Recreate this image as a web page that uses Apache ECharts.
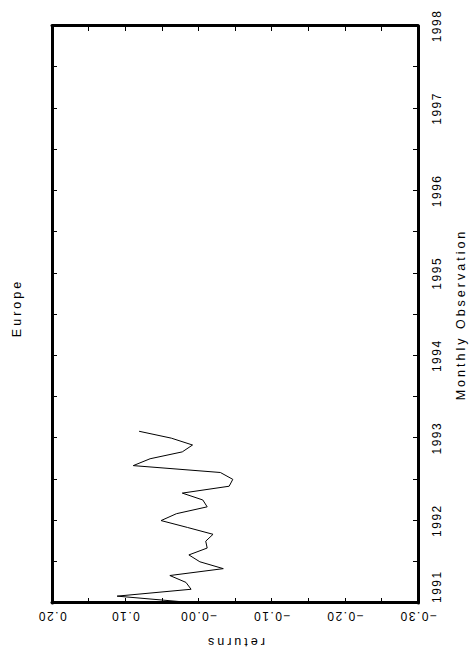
<!DOCTYPE html>
<html>
<head>
<meta charset="utf-8">
<script src="https://cdn.jsdelivr.net/npm/echarts@6/dist/echarts.min.js"></script>
<style>
    html, body { margin: 0; padding: 0; overflow: hidden; background: #fff; width: 472px; height: 656px; }
    /* chart is drawn landscape and turned a quarter left, like the scanned plot */
    #chart1 { position: absolute; left: 0; top: 0; width: 656px; height: 472px; transform-origin: 0 0; transform: translateY(656px) rotate(-90deg); }
    /* the plot font is widely spaced, the names more than the numbers */
    #chart1 text { letter-spacing: 1.5px; }
    #chart1 text[style*="12.5px"] { letter-spacing: 3px; }
</style>
</head>
<body>
<div id="chart1"></div>
<script>
var obsStart = 1991; // first monthly observation (Jan 1991)
var returns = [0.003, 0.111, 0.010, 0.017, 0.039, -0.034, -0.002, 0.013, -0.012, -0.010,
    -0.020, 0.015, 0.051, 0.030, -0.012, -0.006, 0.022, -0.042, -0.047, -0.030,
    0.089, 0.066, 0.022, 0.008, 0.037, 0.081];
var yearTicks = [1991, 1992, 1993, 1994, 1995, 1996, 1997, 1998];
var yearLabels = ['1991', '1992', '1993', '1994', '1995', '1996', '1997', '1998'];
var returnTicks = [-0.30, -0.20, -0.10, 0.00, 0.10, 0.20];
var returnLabels = ['\u22120.30', '\u22120.20', '\u22120.10', '\u22120.00', '0.10', '0.20'];

var fontName = 'Liberation Sans';

function tickLabel(ticks, labels) {
    return function(v) {
        for (var i = 0; i < ticks.length; i++) {
            if (Math.abs(ticks[i] - v) < 1e-6) return labels[i];
        }
        return '';
    }
}

var seriesData = [];
for (var i = 0; i < returns.length; i++) {
    seriesData.push([obsStart + i / 12, returns[i]]);
}

var axisLine = { show: true, onZero: false, lineStyle: { color: '#000', width: 3 } };
var axisTick = { show: true, inside: true, length: 5, lineStyle: { color: '#000', width: 1 } };

var chart1 = echarts.init(document.getElementById('chart1'), null, { renderer: 'svg' });
var option = {
    animation: false,
    title: {
        text: 'Europe',
        left: 348,
        top: 10,
        textAlign: 'center',
        padding: 0,
        textStyle: { fontSize: 12.5, fontWeight: 'normal', color: '#000', fontFamily: fontName }
    },
    grid: { left: 52, right: 26, top: 52, bottom: 53, containLabel: false },
    xAxis: [{
        type: 'value',
        min: 1991,
        max: 1998,
        interval: 0.5,
        position: 'bottom',
        axisLine: axisLine,
        axisTick: axisTick,
        splitLine: { show: false },
        axisLabel: {
            formatter: tickLabel(yearTicks, yearLabels),
            color: '#000',
            fontSize: 12,
            fontFamily: fontName,
            margin: 13,
            showMinLabel: true,
            showMaxLabel: true,
            alignMinLabel: 'left'
        },
        name: 'Monthly Observation',
        nameLocation: 'middle',
        nameGap: 36,
        nameTextStyle: { fontSize: 12.5, color: '#000', fontFamily: fontName }
    }, {
        type: 'value',
        min: 1991,
        max: 1998,
        interval: 0.5,
        position: 'top',
        axisLine: axisLine,
        axisTick: axisTick,
        splitLine: { show: false },
        axisLabel: { show: false }
    }],
    yAxis: [{
        type: 'value',
        min: -0.30,
        max: 0.20,
        interval: 0.05,
        position: 'left',
        axisLine: axisLine,
        axisTick: axisTick,
        splitLine: { show: false },
        axisLabel: {
            formatter: tickLabel(returnTicks, returnLabels),
            rotate: 90,
            color: '#000',
            fontSize: 12,
            fontFamily: fontName,
            margin: 7,
            showMinLabel: true,
            showMaxLabel: true
        },
        name: 'returns',
        nameLocation: 'middle',
        nameRotate: 90,
        nameGap: 32,
        nameTextStyle: { fontSize: 12.5, color: '#000', fontFamily: fontName }
    }, {
        type: 'value',
        min: -0.30,
        max: 0.20,
        interval: 0.05,
        position: 'right',
        axisLine: axisLine,
        axisTick: axisTick,
        splitLine: { show: false },
        axisLabel: { show: false }
    }],
    series: [{
        name: 'returns',
        type: 'line',
        data: seriesData,
        showSymbol: false,
        symbol: 'none',
        lineStyle: { color: '#000', width: 1 }
    }]
};
chart1.setOption(option);
</script>
</body>
</html>
